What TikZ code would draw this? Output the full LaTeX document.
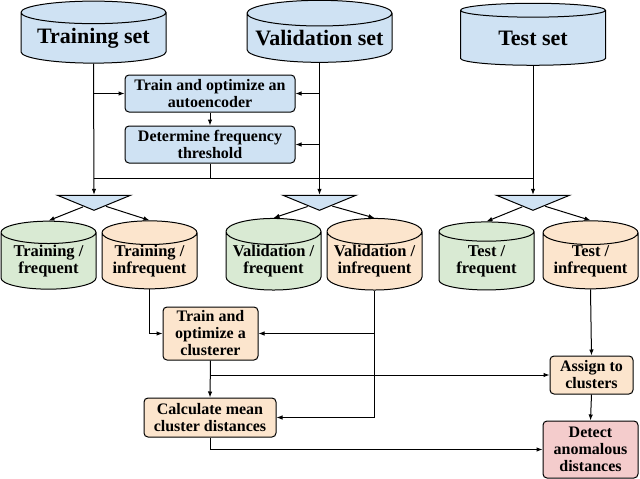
\documentclass[tikz,border=0pt]{standalone}
\usepackage{fontspec}
\setmainfont{Liberation Serif}
\usetikzlibrary{shapes.geometric,arrows.meta}
\definecolor{setblue}{HTML}{CFE2F3}
\definecolor{freqgreen}{HTML}{D9EAD3}
\definecolor{infrorange}{HTML}{FCE5CD}
\definecolor{anomred}{HTML}{F4CCCC}
\tikzset{
	dbbig/.style={cylinder, shape border rotate=90, draw, line width=1pt, fill=setblue, aspect=0.2,
		minimum width=145pt, minimum height=62pt, inner sep=0pt, font=\fontsize{22}{24}\selectfont\bfseries},
	db/.style={cylinder, shape border rotate=90, draw, line width=1pt, aspect=0.32,
		minimum width=95pt, minimum height=68pt, inner sep=0pt, align=center, font=\fontsize{16.5}{17}\selectfont\bfseries},
	stepbox/.style={draw, line width=1pt, rounded corners=4pt, align=center, inner sep=0pt,
		font=\fontsize{16}{17}\selectfont\bfseries},
	split/.style={isosceles triangle, shape border rotate=270, isosceles triangle stretches, draw, line width=1pt,
		fill=setblue, minimum width=73pt, minimum height=15pt, inner sep=0pt},
	conn/.style={-{Latex[length=6pt,width=4.5pt]}, line width=1pt},
	line/.style={line width=1pt}
}

\begin{document}
\begin{tikzpicture}[x=1pt,y=-1pt]
			\useasboundingbox (0,0) rectangle (640,479);
			\node[dbbig] (trn) at (93.5,38) {Training set};
			\node[dbbig] (val) at (319.5,38) {Validation set};
			\node[dbbig] (tst) at (533,38) {Test set};
			\node[stepbox, fill=setblue, minimum width=170pt, minimum height=37pt] (ae) at (210,93.5) {Train and optimize an\\autoencoder};
			\node[stepbox, fill=setblue, minimum width=170pt, minimum height=37pt] (thr) at (210,144.5) {Determine frequency\\threshold};
			\coordinate (thrline) at (210,178);
			\node[split] (sptrn) at (94,202.5) {};
			\node[split] (spval) at (319.5,202.5) {};
			\node[split] (sptst) at (533,202.5) {};
			\node[db, fill=freqgreen] (trfrq) at (48.5,261) {Training /\\frequent};
			\node[db, fill=infrorange] (trinf) at (149.5,261) {Training /\\infrequent};
			\node[db, fill=freqgreen] (vafrq) at (273.5,261) {Validation /\\frequent};
			\node[db, fill=infrorange] (vainf) at (374.5,261) {Validation /\\infrequent};
			\node[db, fill=freqgreen] (tefrq) at (486.5,261) {Test /\\frequent};
			\node[db, fill=infrorange] (teinf) at (590.5,261) {Test /\\infrequent};
			\node[stepbox, fill=infrorange, minimum width=95pt, minimum height=53pt] (clu) at (210.5,333.5) {Train and\\optimize a\\clusterer};
			\node[stepbox, fill=infrorange, minimum width=132pt, minimum height=39pt] (dist) at (210,417.5) {Calculate mean\\cluster distances};
			\node[stepbox, fill=infrorange, minimum width=83pt, minimum height=38pt] (asg) at (591.5,375) {Assign to\\clusters};
			\node[stepbox, fill=anomred, minimum width=95pt, minimum height=57pt] (anom) at (590.5,449.5) {Detect\\anomalous\\distances};

			\draw[conn] (trn.south) -- (sptrn.north);
			\draw[conn] (val.south) -- (spval.north);
			\draw[conn] (tst.south) -- (sptst.north);
			\draw[conn] (trn.south |- ae.west) -- (ae.west);
			\draw[conn] (val.south |- ae.east) -- (ae.east);
			\draw[conn] (val.south |- thr.east) -- (thr.east);
			\draw[conn] (ae.south) -- (thr.north);
			\draw[line] (thr.south) -- (thrline);
			\draw[line] (trn.south |- thrline) -- (tst.south |- thrline);
			\draw[conn] (sptrn) -- (trfrq.north);
			\draw[conn] (sptrn) -- (trinf.north);
			\draw[conn] (spval) -- (vafrq.north);
			\draw[conn] (spval) -- (vainf.north);
			\draw[conn] (sptst) -- (tefrq.north);
			\draw[conn] (sptst) -- (teinf.north);
			\draw[conn] (trinf.south) |- (clu.west);
			\draw[conn] (vainf.south) |- (dist.east);
			\draw[conn] (vainf.south |- clu.east) -- (clu.east);
			\draw[conn] (clu.south) -- (dist.north);
			\draw[conn] (clu.south |- asg.west) -- (asg.west);
			\draw[conn] (teinf.south) -- (asg.north);
			\draw[conn] (asg.south) -- (anom.north);
			\draw[conn] (dist.south) |- (anom.west);
		\end{tikzpicture}
\end{document}
